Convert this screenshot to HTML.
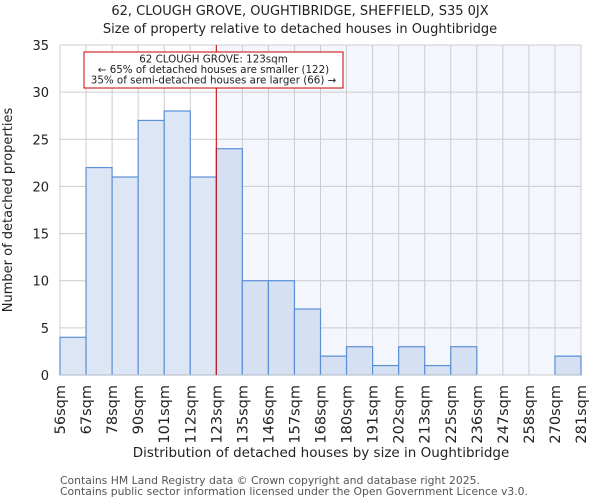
<!DOCTYPE html>
<html><head><meta charset="utf-8"><style>
body{margin:0;background:#fff;font-family:"DejaVu Sans","Liberation Sans",sans-serif}
svg text{font-family:"DejaVu Sans","Liberation Sans",sans-serif;fill:#222}
</style></head><body>
<svg id="chart" width="600" height="500" xmlns="http://www.w3.org/2000/svg">
<text x="300" y="15" text-anchor="middle" font-size="13">62, CLOUGH GROVE, OUGHTIBRIDGE, SHEFFIELD, S35 0JX</text>
<text x="300" y="33" text-anchor="middle" font-size="13">Size of property relative to detached houses in Oughtibridge</text>
<g id="plot"></g>
<text x="321" y="457" text-anchor="middle" font-size="13.5">Distribution of detached houses by size in Oughtibridge</text>
<text transform="translate(12,210) rotate(-90)" text-anchor="middle" font-size="13">Number of detached properties</text>
<text x="60" y="484" font-size="10.8" style="fill:#555">Contains HM Land Registry data © Crown copyright and database right 2025.</text>
<text x="60" y="495" font-size="10.8" style="fill:#555">Contains public sector information licensed under the Open Government Licence v3.0.</text>
</svg>
<script>
const binLabels=["56sqm","67sqm","78sqm","90sqm","101sqm","112sqm","123sqm","135sqm","146sqm","157sqm","168sqm","180sqm","191sqm","202sqm","213sqm","225sqm","236sqm","247sqm","258sqm","270sqm","281sqm"];
const counts=[4,22,21,27,28,21,24,10,10,7,2,3,1,3,1,3,0,0,0,2];
const yTicks=[0,5,10,15,20,25,30,35];
const markerBin=6;
const NS="http://www.w3.org/2000/svg";
const g=document.getElementById("plot");
const X0=60,X1=581,Y0=375,Y1=45,YMAX=35;
const n=counts.length;
const bw=(X1-X0)/n;
const xs=i=>X0+i*bw;
const ys=v=>Y0-(v/YMAX)*(Y0-Y1);
function el(t,a){const e=document.createElementNS(NS,t);for(const k in a)e.setAttribute(k,a[k]);g.appendChild(e);return e;}
const mx=xs(markerBin);
let r=el("rect",{x:mx,y:Y1,width:X1-mx,height:Y0-Y1,fill:"#f3f6fd"});


for(let i=0;i<=n;i++){const l=el("line",{x1:xs(i),x2:xs(i),y1:Y1,y2:Y0,stroke:"#cccccc","stroke-width":1});

}
yTicks.forEach(t=>{const l=el("line",{x1:X0,x2:X1,y1:ys(t),y2:ys(t),stroke:"#cccccc","stroke-width":1});


const tx=el("text",{x:X0-11,y:ys(t)+5,"text-anchor":"end","font-size":"13"});tx.textContent=t;

});
counts.forEach((c,i)=>{if(c<=0)return;const b=el("rect",{x:xs(i),y:ys(c),width:bw,height:Y0-ys(c),fill:i<markerBin?"#dde6f4":"#d5e0f3",stroke:"#5b8fd6","stroke-width":1.2});

});
const ax=el("line",{x1:X0,x2:X1,y1:Y0,y2:Y0,stroke:"#cccccc"});


binLabels.forEach((lb,i)=>{const x=xs(i);const tx=el("text",{transform:`translate(${x+5},${385}) rotate(-90)`,"text-anchor":"end","font-size":"14.5"});tx.textContent=lb;

});
const ml=el("line",{x1:mx,x2:mx,y1:Y1,y2:Y0,stroke:"#cc0000","stroke-width":1});


const box=el("rect",{x:84,y:52,width:259,height:36,fill:"#fff",stroke:"#cc0000","stroke-width":1});


["62 CLOUGH GROVE: 123sqm","← 65% of detached houses are smaller (122)","35% of semi-detached houses are larger (66) →"].forEach((s,k)=>{const t=el("text",{x:213.5,y:62.5+k*10.5,"text-anchor":"middle","font-size":"10.3"});t.textContent=s;

});
</script>
</body></html>
